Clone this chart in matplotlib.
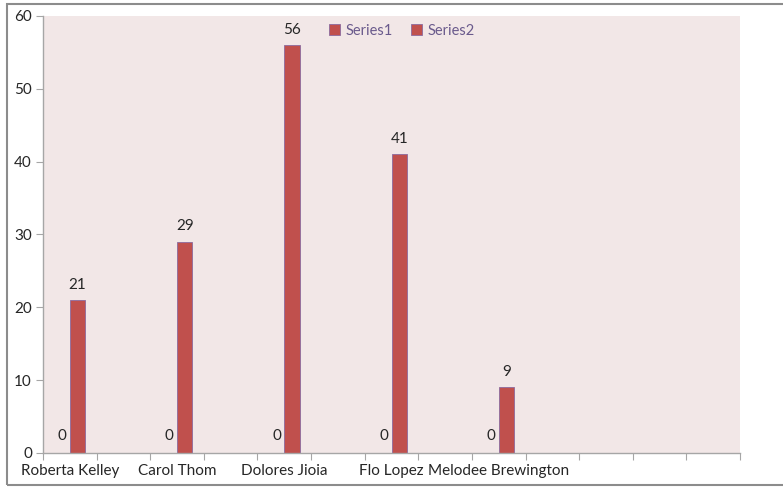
import numpy as np
import matplotlib.pyplot as plt
from matplotlib.patches import Rectangle

# category slots on the x axis; only every other one has a name
categories = ['Roberta Kelley', '', 'Carol Thom', '', 'Dolores Jioia', '',
              'Flo Lopez', '', 'Melodee Brewington', '', '', '', '']
series1 = [0, None, 0, None, 0, None, 0, None, 0, None, None, None, None]
series2 = [21, None, 29, None, 56, None, 41, None, 9, None, None, None, None]

plt.rcParams['font.family'] = ['Lato', 'DejaVu Sans']

bar_color = '#C0504D'
edge_color = '#8C6A9E'
axis_color = '#A6A6A6'
text_color = '#262626'

fig = plt.figure(figsize=(7.83, 4.87), dpi=100)
ax = fig.add_axes([43 / 783, 34 / 487, 697 / 783, 437 / 487])
ax.set_facecolor('#F2E7E7')

x = np.arange(len(categories))
w = 1 / 3.5  # two bars + 150% gap per slot

for i, (a, b) in enumerate(zip(series1, series2)):
    if a is None:
        continue
    ax.bar(i - w / 2, a, w, color=bar_color, edgecolor=edge_color, linewidth=0.6,
           label='Series1' if i == 0 else None)
    ax.bar(i + w / 2, b, w, color=bar_color, edgecolor=edge_color, linewidth=0.6,
           label='Series2' if i == 0 else None)
    ax.annotate(str(a), (i - w / 2, a), xytext=(0, 7), textcoords='offset points',
                ha='center', va='bottom', fontsize=11, color=text_color)
    ax.annotate(str(b), (i + w / 2, b), xytext=(0, 6), textcoords='offset points',
                ha='center', va='bottom', fontsize=11, color=text_color)

ax.set_xlim(-0.5, len(categories) - 0.5)
ax.set_ylim(0, 60)
ax.set_yticks(range(0, 61, 10))

# tick marks at slot edges, names at slot centres
ax.set_xticks(np.arange(len(categories) + 1) - 0.5)
ax.set_xticklabels([])
ax.set_xticks(x, minor=True)
ax.set_xticklabels(categories, minor=True)
ax.tick_params(axis='x', which='minor', length=0, pad=8, labelsize=11, labelcolor=text_color)
ax.tick_params(axis='x', which='major', length=5, color=axis_color)
ax.tick_params(axis='y', length=5, color=axis_color, pad=3, labelsize=11, labelcolor=text_color)

for side in ['top', 'right']:
    ax.spines[side].set_visible(False)
for side in ['left', 'bottom']:
    ax.spines[side].set_color(axis_color)
    ax.spines[side].set_linewidth(1)

leg = ax.legend(loc='upper center', bbox_to_anchor=(0.515, 1.012), ncol=2, frameon=False,
                fontsize=10.5, handlelength=0.75, handleheight=0.75, handletextpad=0.35,
                columnspacing=1.3, labelcolor='#6A5A8C')

# chart area border
fig.patches.append(Rectangle((7 / 783, 2 / 487), 780 / 783, 481 / 487, transform=fig.transFigure,
                             fill=False, edgecolor='#8C8C8C', linewidth=1.5))

fig.savefig('out.png', dpi=100)
